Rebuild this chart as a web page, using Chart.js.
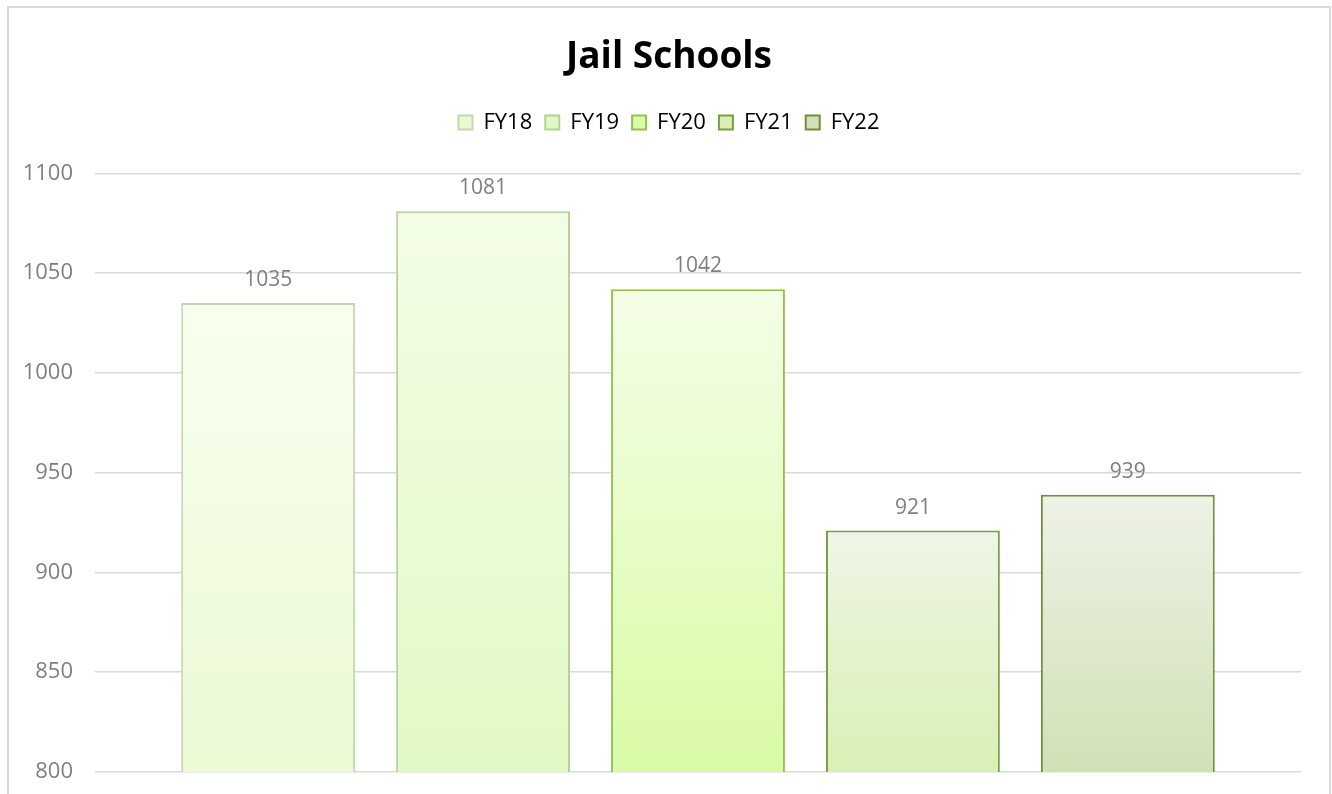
<!DOCTYPE html>
<html>
<head>
<meta charset="utf-8">
<script src="https://cdn.jsdelivr.net/npm/chart.js@4"></script>
<style>
  html, body { margin: 0; padding: 0; background: #fff; overflow: hidden; }
  #frame { position: absolute; left: 7px; top: 6px; width: 1324px; height: 820px; border: 2px solid #d9d9d9; box-sizing: border-box; }
  #wrap { position: absolute; left: 0; top: 0; width: 1332px; height: 794px; }
</style>
</head>
<body>
<div id="frame"></div>
<div id="wrap"><canvas id="jailChart" width="1332" height="794"></canvas></div>
<script>
// data
const categories = [''];
const years = ['FY18', 'FY19', 'FY20', 'FY21', 'FY22'];
const enrolled = [1035, 1081, 1042, 921, 939];
const yTicks = [800, 850, 900, 950, 1000, 1050, 1100];

// colours per year: gradient top, gradient bottom, border
const fillTop = ['#f8ffee', '#f3fde6', '#f4fee7', '#eff5e6', '#eef2e6'];
const fillBottom = ['#ebf9d5', '#e1f9c5', '#d9fba6', '#d8f0b5', '#d0e1b6'];
const borders = ['#c4d8ad', '#b6d095', '#93c150', '#7c9c45', '#718f3c'];

const FONT = "'Open Sans', 'DejaVu Sans', sans-serif";

// vertical gradient for each bar, from its top down to the axis
function barFill(i) {
    return function (ctx) {
        const chart = ctx.chart;
        const area = chart.chartArea;
        if (!area) return fillBottom[i];
        const top = chart.scales.y.getPixelForValue(enrolled[i]);
        const g = chart.ctx.createLinearGradient(0, top, 0, area.bottom);
        g.addColorStop(0, fillTop[i]);
        g.addColorStop(1, fillBottom[i]);
        return g;
    };
}

// value labels above the bars
const valueLabels = {
    id: 'valueLabels',
    afterDatasetsDraw(chart) {
        const c = chart.ctx;
        c.save();
        c.font = '21px ' + FONT;
        c.fillStyle = '#7f7f7f';
        c.textAlign = 'center';
        c.textBaseline = 'alphabetic';
        chart.data.datasets.forEach((ds, i) => {
            const bar = chart.getDatasetMeta(i).data[0];
            c.fillText(String(ds.data[0]), bar.x, bar.y - 17);
        });
        c.restore();
    }
};

// extra room under the legend
const legendGap = {
    id: 'legendGap',
    beforeInit(chart) {
        const fit = chart.legend.fit;
        chart.legend.fit = function () {
            fit.bind(chart.legend)();
            this.height += 30;
        };
    }
};

const datasets = years.map((y, i) => ({
    label: y,
    data: [enrolled[i]],
    backgroundColor: barFill(i),
    borderColor: borders[i],
    borderWidth: 2,
    borderSkipped: false,
    categoryPercentage: 0.891,
    barPercentage: 0.809
}));

new Chart(document.getElementById('jailChart'), {
    type: 'bar',
    data: { labels: categories, datasets: datasets },
    plugins: [valueLabels, legendGap],
    options: {
        responsive: false,
        animation: false,
        layout: { padding: { left: 6, right: 0, top: 0, bottom: 22 } },
        plugins: {
            title: {
                display: true,
                text: 'Jail Schools',
                color: '#000',
                font: { family: FONT, size: 37, weight: 'bold' },
                padding: { top: 35, bottom: 19 }
            },
            legend: {
                position: 'top',
                labels: {
                    color: '#000',
                    font: { family: FONT, size: 22 },
                    boxWidth: 14,
                    boxHeight: 14,
                    padding: 13,
                    generateLabels: () => years.map((y, i) => ({
                        text: y,
                        fillStyle: fillBottom[i],
                        strokeStyle: borders[i],
                        lineWidth: 2,
                        datasetIndex: i
                    }))
                }
            },
            tooltip: { enabled: false }
        },
        scales: {
            x: { display: false },
            y: {
                min: 800,
                max: 1100,
                afterFit(scale) {
                    scale.width = 89;
                    scale.paddingTop = 0;
                    scale.paddingBottom = 0;
                },
                afterBuildTicks(scale) { scale.ticks = yTicks.map(v => ({ value: v })); },
                border: { display: false },
                grid: { color: '#d9d9d9', lineWidth: 1.5, drawTicks: false },
                ticks: {
                    color: '#7f7f7f',
                    padding: 22,
                    font: { family: FONT, size: 22 },
                    callback: v => String(v)
                }
            },
            // empty right-hand axis, only keeps the right margin
            yRight: {
                position: 'right',
                min: 800,
                max: 1100,
                afterFit(scale) {
                    scale.width = 31;
                    scale.paddingTop = 0;
                    scale.paddingBottom = 0;
                },
                border: { display: false },
                grid: { display: false },
                ticks: { display: false }
            }
        }
    }
});
</script>
</body>
</html>
